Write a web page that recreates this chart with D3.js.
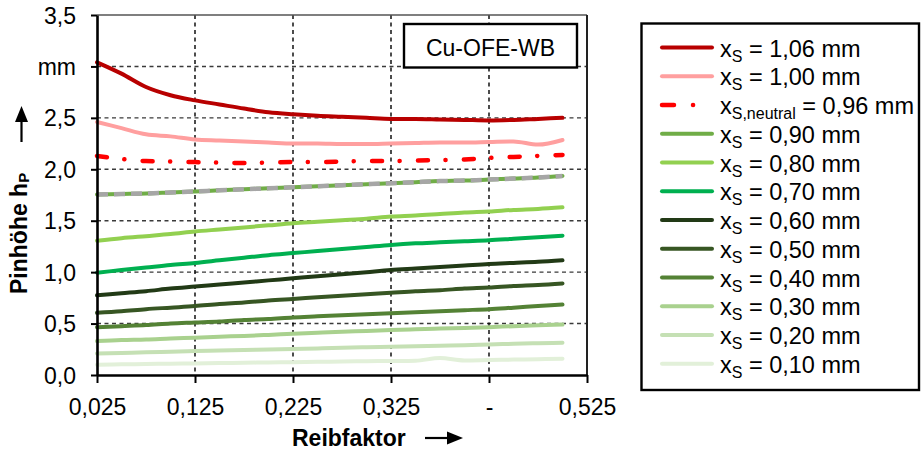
<!DOCTYPE html>
<html>
<head>
<meta charset="utf-8">
<script src="https://cdn.jsdelivr.net/npm/d3@7/dist/d3.min.js"></script>
<style>
  body { margin: 0; background: #fff; }
  svg { display: block; font-family: "Liberation Sans", Arial, sans-serif; }
  text { white-space: pre; }
</style>
</head>
<body>
<svg id="chart" width="921" height="450"></svg>
<script>
// Reibfaktor (friction factor) sample points
const reibfaktor = [0.025, 0.05, 0.075, 0.1, 0.125, 0.15, 0.175, 0.2, 0.225, 0.25,
                    0.275, 0.3, 0.325, 0.35, 0.375, 0.4, 0.425, 0.45, 0.475, 0.5];

// Pinhöhe h_P in mm for each stroke position x_S
const xs106 = [3.04, 2.93, 2.80, 2.72, 2.67, 2.63, 2.59, 2.555, 2.535, 2.52,
               2.51, 2.50, 2.49, 2.49, 2.485, 2.48, 2.475, 2.48, 2.49, 2.50];
const xs100 = [2.46, 2.40, 2.34, 2.32, 2.29, 2.28, 2.27, 2.26, 2.25, 2.25,
               2.245, 2.245, 2.25, 2.255, 2.26, 2.26, 2.265, 2.27, 2.24, 2.285];
const xsNeutral = [2.13, 2.10, 2.08, 2.075, 2.07, 2.065, 2.06, 2.065, 2.07, 2.07,
                   2.075, 2.08, 2.08, 2.085, 2.09, 2.095, 2.11, 2.12, 2.13, 2.14];
const xs090 = [1.755, 1.76, 1.765, 1.775, 1.785, 1.795, 1.805, 1.815, 1.825, 1.835,
               1.845, 1.855, 1.865, 1.875, 1.885, 1.89, 1.90, 1.91, 1.92, 1.935];
const xs080 = [1.305, 1.33, 1.35, 1.37, 1.395, 1.415, 1.435, 1.455, 1.475, 1.49,
               1.505, 1.52, 1.54, 1.55, 1.565, 1.58, 1.59, 1.605, 1.615, 1.63];
const xs070 = [0.995, 1.02, 1.045, 1.07, 1.09, 1.115, 1.14, 1.165, 1.185, 1.205,
               1.225, 1.245, 1.265, 1.28, 1.29, 1.30, 1.31, 1.325, 1.34, 1.355];
const xs060 = [0.775, 0.795, 0.815, 0.84, 0.86, 0.88, 0.90, 0.92, 0.94, 0.96,
               0.98, 1.00, 1.02, 1.035, 1.05, 1.065, 1.08, 1.09, 1.10, 1.115];
const xs050 = [0.605, 0.62, 0.64, 0.655, 0.67, 0.69, 0.705, 0.725, 0.74, 0.755,
               0.77, 0.785, 0.80, 0.815, 0.825, 0.84, 0.85, 0.865, 0.875, 0.89];
const xs040 = [0.465, 0.475, 0.485, 0.50, 0.51, 0.52, 0.535, 0.545, 0.56, 0.57,
               0.58, 0.59, 0.60, 0.61, 0.62, 0.63, 0.64, 0.655, 0.67, 0.685];
const xs030 = [0.33, 0.34, 0.345, 0.355, 0.363, 0.372, 0.38, 0.39, 0.40, 0.41,
               0.42, 0.428, 0.437, 0.445, 0.452, 0.458, 0.465, 0.475, 0.483, 0.49];
const xs020 = [0.21, 0.215, 0.22, 0.227, 0.233, 0.238, 0.243, 0.248, 0.253, 0.258,
               0.264, 0.27, 0.275, 0.28, 0.285, 0.29, 0.297, 0.303, 0.309, 0.314];
const xs010 = [0.10, 0.104, 0.107, 0.11, 0.113, 0.116, 0.119, 0.122, 0.125, 0.128,
               0.131, 0.134, 0.136, 0.139, 0.165, 0.142, 0.146, 0.150, 0.154, 0.159];

// Axis ticks and labels
const yTickValues = [0, 0.5, 1.0, 1.5, 2.0, 2.5, 3.0, 3.5];
const yTickLabels = ["0,0", "0,5", "1,0", "1,5", "2,0", "2,5", "mm", "3,5"];
const xTickValues = [0.025, 0.125, 0.225, 0.325, 0.425, 0.525];
const xTickLabels = ["0,025", "0,125", "0,225", "0,325", "-", "0,525"];

// Legend entries: subscript and value text
const legendSub = ["S", "S", "S,neutral", "S", "S", "S", "S", "S", "S", "S", "S", "S"];
const legendValue = ["1,06", "1,00", "0,96", "0,90", "0,80", "0,70", "0,60", "0,50", "0,40", "0,30", "0,20", "0,10"];

const series = [
  { values: xs106, color: "#B80000" },
  { values: xs100, color: "#FF9F9F" },
  { values: xsNeutral, color: "#FF0000", dash: "10,17.5,0.1,18.3" },
  { values: xs090, color: "#70AD47" },
  { values: xs080, color: "#92D050" },
  { values: xs070, color: "#00B050" },
  { values: xs060, color: "#223A16" },
  { values: xs050, color: "#375623" },
  { values: xs040, color: "#548235" },
  { values: xs030, color: "#A9D18E" },
  { values: xs020, color: "#C5E0B4" },
  { values: xs010, color: "#E2F0D9" }
];

const svg = d3.select("#chart");
const plot = { left: 97, right: 587, top: 15, bottom: 375 };

const x = d3.scaleLinear().domain([0.025, 0.525]).range([plot.left, plot.right]);
const y = d3.scaleLinear().domain([0, 3.5]).range([plot.bottom, plot.top]);

// Grid lines
svg.append("g").selectAll("line")
  .data(yTickValues.filter(v => v > 0 && v < 3.5))
  .join("line")
  .attr("x1", plot.left).attr("x2", plot.right)
  .attr("y1", d => y(d)).attr("y2", d => y(d))
  .attr("stroke", "#3a3a3a").attr("stroke-width", 1.4)
  .attr("stroke-dasharray", "4,3.5");

svg.append("g").selectAll("line")
  .data(xTickValues.slice(1, -1))
  .join("line")
  .attr("x1", d => x(d)).attr("x2", d => x(d))
  .attr("y1", plot.top).attr("y2", plot.bottom)
  .attr("stroke", "#000").attr("stroke-width", 1.4)
  .attr("stroke-dasharray", "4,3.5");

// Plot frame (top and right)
svg.append("line")
  .attr("x1", plot.left).attr("x2", plot.right)
  .attr("y1", plot.top).attr("y2", plot.top)
  .attr("stroke", "#555").attr("stroke-width", 1.6);
svg.append("line")
  .attr("x1", plot.right).attr("x2", plot.right)
  .attr("y1", plot.top).attr("y2", plot.bottom)
  .attr("stroke", "#222").attr("stroke-width", 2);

// Data lines
const line = d3.line()
  .x((d, i) => x(reibfaktor[i]))
  .y(d => y(d))
  .curve(d3.curveMonotoneX);

const linesG = svg.append("g");
series.slice().reverse().forEach(s => {
  linesG.append("path")
    .attr("d", line(s.values))
    .attr("fill", "none")
    .attr("stroke", s.color)
    .attr("stroke-width", s.dash ? 4.5 : 4)
    .attr("stroke-linecap", "round")
    .attr("stroke-linejoin", "round")
    .attr("stroke-dasharray", s.dash || null);
});
// grey dashed overlay on the 0,90 mm curve
linesG.append("path")
  .attr("d", line(xs090))
  .attr("fill", "none")
  .attr("stroke", "#A6A6A6")
  .attr("stroke-width", 4.5)
  .attr("stroke-dasharray", "11,6");

// Axes
const yAxis = d3.axisLeft(y)
  .tickValues(yTickValues)
  .tickFormat((d, i) => yTickLabels[i])
  .tickSize(6).tickSizeOuter(0).tickPadding(15);
const gy = svg.append("g").attr("transform", `translate(${plot.left},0)`).call(yAxis);

const xAxis = d3.axisBottom(x)
  .tickValues(xTickValues)
  .tickFormat((d, i) => xTickLabels[i])
  .tickSize(8).tickSizeOuter(0).tickPadding(16);
const gx = svg.append("g").attr("transform", `translate(0,${plot.bottom})`).call(xAxis);

[gx, gy].forEach(g => {
  g.select(".domain").attr("stroke", "#000").attr("stroke-width", 2.6);
  g.selectAll(".tick line").attr("stroke", "#000").attr("stroke-width", 2);
  g.selectAll(".tick text")
    .attr("fill", "#000")
    .style("font-size", "23px")
    .style("font-family", "'Liberation Sans', Arial, sans-serif");
});
gy.selectAll(".tick text").attr("dy", "0.35em");

// Axis titles
const yTitle = svg.append("text")
  .attr("transform", "translate(27,294) rotate(-90)")
  .style("font-size", "23px").style("font-weight", "bold").attr("fill", "#000");
yTitle.append("tspan").text("Pinhöhe h");
yTitle.append("tspan").attr("dy", 2).style("font-size", "15px").text("P");

svg.append("path")
  .attr("d", "M21.5,142 L21.5,118")
  .attr("stroke", "#000").attr("stroke-width", 2.2);
svg.append("path")
  .attr("d", "M21.5,106 L28,122 L15,122 Z")
  .attr("fill", "#000");

svg.append("text")
  .attr("x", 292).attr("y", 446)
  .style("font-size", "23px").style("font-weight", "bold").attr("fill", "#000")
  .text("Reibfaktor");
svg.append("path")
  .attr("d", "M425,438 L450,438")
  .attr("stroke", "#000").attr("stroke-width", 2.2);
svg.append("path")
  .attr("d", "M463,438 L447,431.5 L447,444.5 Z")
  .attr("fill", "#000");

// Material label box
svg.append("rect")
  .attr("x", 404).attr("y", 24).attr("width", 173).attr("height", 43.5)
  .attr("fill", "#fff").attr("stroke", "#000").attr("stroke-width", 2.4);
svg.append("text")
  .attr("x", 490.5).attr("y", 56).attr("text-anchor", "middle")
  .style("font-size", "23px").attr("fill", "#000")
  .text("Cu-OFE-WB");

// Legend
const legend = svg.append("g");
legend.append("rect")
  .attr("x", 641.5).attr("y", 23.5).attr("width", 277.5).attr("height", 366.5)
  .attr("fill", "#fff").attr("stroke", "#000").attr("stroke-width", 2.4);

const rowY = i => 47.5 + i * 28.75;
series.forEach((s, i) => {
  legend.append("line")
    .attr("x1", 662).attr("x2", 712)
    .attr("y1", rowY(i)).attr("y2", rowY(i))
    .attr("stroke", s.color)
    .attr("stroke-width", s.dash ? 4.5 : 4)
    .attr("stroke-linecap", "round")
    .attr("stroke-dasharray", s.dash ? "12,19,0.1,40" : null);
  const t = legend.append("text")
    .attr("x", 720).attr("y", rowY(i) + 9)
    .style("font-size", "23.5px").attr("fill", "#000");
  t.append("tspan").text("x");
  t.append("tspan").attr("dy", 5).style("font-size", "16px").text(legendSub[i]);
  t.append("tspan").attr("dy", -5).text(` = ${legendValue[i]} mm`);
});
</script>
</body>
</html>
